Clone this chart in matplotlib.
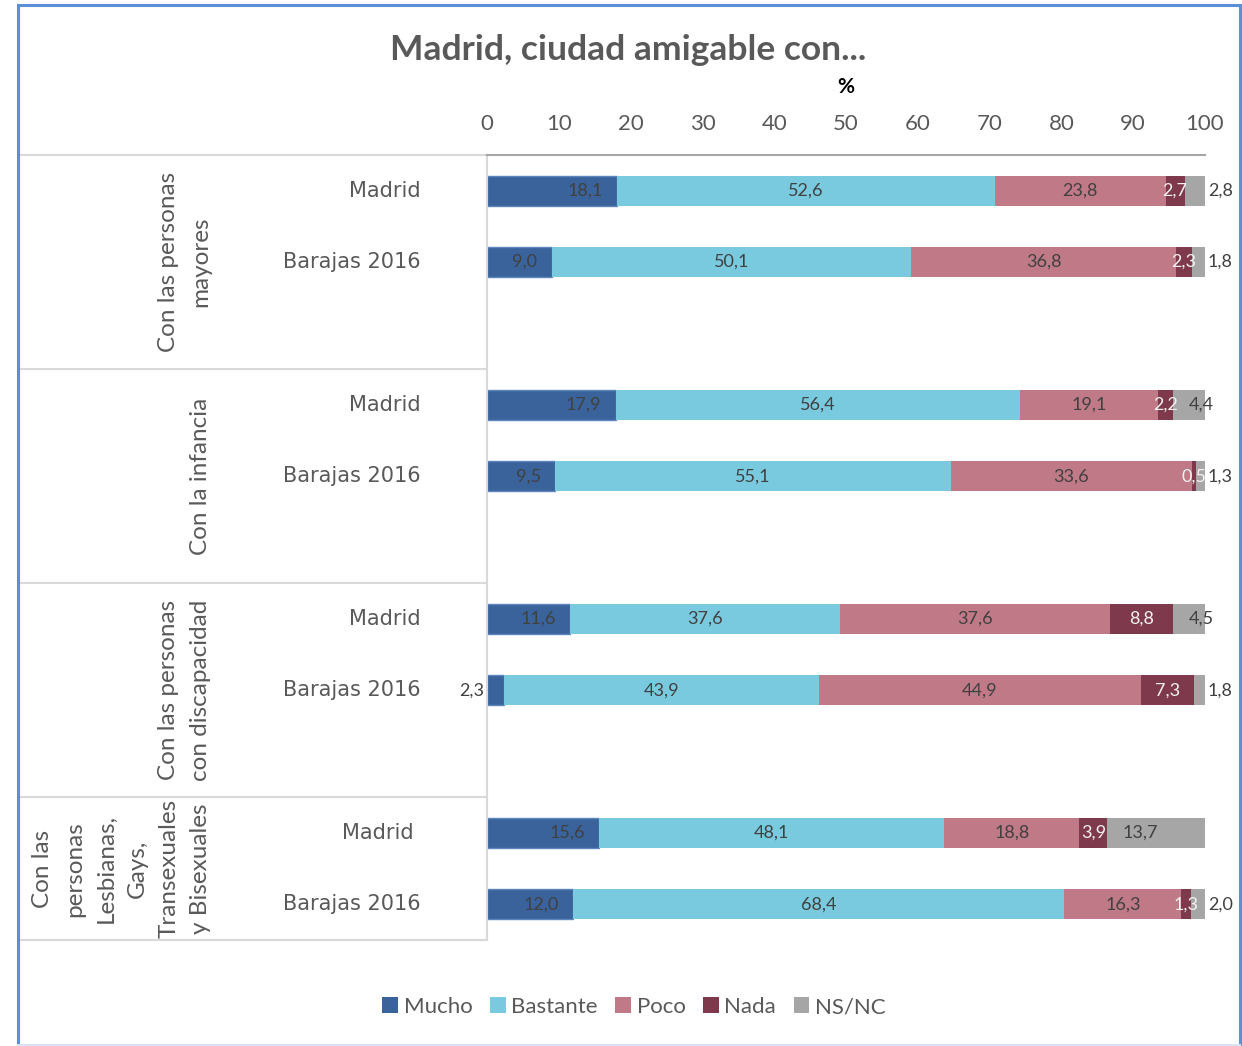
import matplotlib
matplotlib.use("Agg")
import matplotlib.pyplot as plt
import matplotlib.transforms as mtransforms
from matplotlib.patches import Patch
from matplotlib.lines import Line2D

groups = ["Con las personas\nmayores",
          "Con la infancia",
          "Con las personas\ncon discapacidad",
          "Con las\npersonas\nLesbianas,\nGays,\nTransexuales\ny Bisexuales"]
rows = ["Madrid", "Barajas 2016"]

series_names = ["Mucho", "Bastante", "Poco", "Nada", "NS/NC"]
mucho = [18.1, 9.0, 17.9, 9.5, 11.6, 2.3, 15.6, 12.0]
bastante = [52.6, 50.1, 56.4, 55.1, 37.6, 43.9, 48.1, 68.4]
poco = [23.8, 36.8, 19.1, 33.6, 37.6, 44.9, 18.8, 16.3]
nada = [2.7, 2.3, 2.2, 0.5, 8.8, 7.3, 3.9, 1.3]
nsnc = [2.8, 1.8, 4.4, 1.3, 4.5, 1.8, 13.7, 2.0]
ticks = [0, 10, 20, 30, 40, 50, 60, 70, 80, 90, 100]

colors = ["#3A639C", "#7ACADF", "#C07987", "#7E3A4C", "#A6A6A6"]
label_colors = ["#404040", "#404040", "#404040", "#F2F2F2", "#404040"]
grey_txt = "#595959"
narrow = ["Lato", "DejaVu Sans"]

W, H = 1242, 1046
fig = plt.figure(figsize=(W / 100, H / 100), dpi=100)
ax = fig.add_axes([487 / W, 1 - 940 / H, 718 / W, 785 / H])

series = [mucho, bastante, poco, nada, nsnc]
ypos = []
for g in range(len(groups)):
    ypos += [3 * g + 0.5, 3 * g + 1.5]

left = [0.0] * len(ypos)
for s, vals in enumerate(series):
    ec = "#5F86BC" if s == 0 else "none"
    ax.barh(ypos, vals, left=left, height=0.42, color=colors[s],
            edgecolor=ec, linewidth=1, label=series_names[s])
    for i, v in enumerate(vals):
        txt = f"{v:.1f}".replace(".", ",")
        start = left[i]
        if s == 0:
            if v < 5:
                x, ha = -0.4, "right"
            else:
                x, ha = v - 2.0, "right"
        elif s == 4:
            if v >= 10:
                x, ha = start + v / 2 - 2.2, "center"
            elif v >= 3:
                x, ha = start + v / 2 + 1.7, "center"
            else:
                x, ha = 100.4, "left"
        else:
            x, ha = start + v / 2, "center"
        col = label_colors[s]
        if s == 0 and v < 5:
            col = "#404040"
        ax.text(x, ypos[i], txt, ha=ha, va="center", fontsize=13,
                color=col, family=narrow)
    left = [a + b for a, b in zip(left, vals)]

ax.set_xlim(0, 100)
ax.set_ylim(11, 0)
ax.xaxis.tick_top()
ax.set_xticks(ticks)
ax.set_xticklabels([str(t) for t in ticks], fontsize=16, color=grey_txt,
                   family=narrow)
ax.tick_params(axis="x", length=0, pad=15)
ax.set_yticks([])
for side in ["right", "bottom"]:
    ax.spines[side].set_visible(False)
ax.spines["top"].set_color("#A6A6A6")
ax.spines["top"].set_linewidth(1.5)
ax.spines["left"].set_color("#D9D9D9")
ax.spines["left"].set_linewidth(1.5)

# table lines on the left
trans = mtransforms.blended_transform_factory(ax.transAxes, ax.transData)
x_tab = (18 - 487) / 718
for yl in [0, 3, 6, 9, 11]:
    ax.plot([x_tab, 0], [yl, yl], color="#D9D9D9", lw=1.5,
            transform=trans, clip_on=False)

# row and group labels
for i, y in enumerate(ypos):
    xr = (414 - 487) / 718 if i == 6 else (421 - 487) / 718
    ax.text(xr, y, rows[i % 2], transform=trans, ha="right", va="center",
            fontsize=15, color=grey_txt, family="DejaVu Sans")
x_grp = (211 - 487) / 718
for g, lab in enumerate(groups):
    yc = 3 * g + 1.5 if g < 3 else 10.0
    ax.text(x_grp, yc, lab, transform=trans, rotation=90, ha="right",
            va="center", multialignment="center", fontsize=17.5,
            color=grey_txt, family=narrow, linespacing=1.62)

fig.text(628 / W, 1 - 50 / H, "Madrid, ciudad amigable con...", ha="center",
         va="center", fontsize=25.5, fontweight="bold", color=grey_txt,
         family=narrow)
fig.text(846 / W, 1 - 87 / H, "%", ha="center", va="center", fontsize=15,
         fontweight="bold", color="black", family=narrow)

handles = [Patch(facecolor=c, edgecolor="none") for c in colors]
fig.legend(handles, series_names, loc="center", ncol=5,
           bbox_to_anchor=(634 / W, 1 - 1007 / H), frameon=False,
           prop={"family": narrow, "size": 16}, labelcolor=grey_txt,
           handlelength=0.7, handleheight=0.7, handletextpad=0.25,
           columnspacing=0.8)

# chart border
bc = "#5B8FD8"
fig.add_artist(Line2D([18 / W, 18 / W], [0, 1 - 5 / H], color=bc, lw=2.2))
fig.add_artist(Line2D([18 / W, 1240 / W], [1 - 5 / H, 1 - 5 / H], color=bc, lw=2.2))
fig.add_artist(Line2D([1240 / W, 1240 / W], [0, 1 - 5 / H], color=bc, lw=2.2))
fig.add_artist(Line2D([18 / W, 1240 / W], [1.5 / H, 1.5 / H], color="#DAE3F3", lw=1.5))

fig.savefig("out.png", dpi=100)
